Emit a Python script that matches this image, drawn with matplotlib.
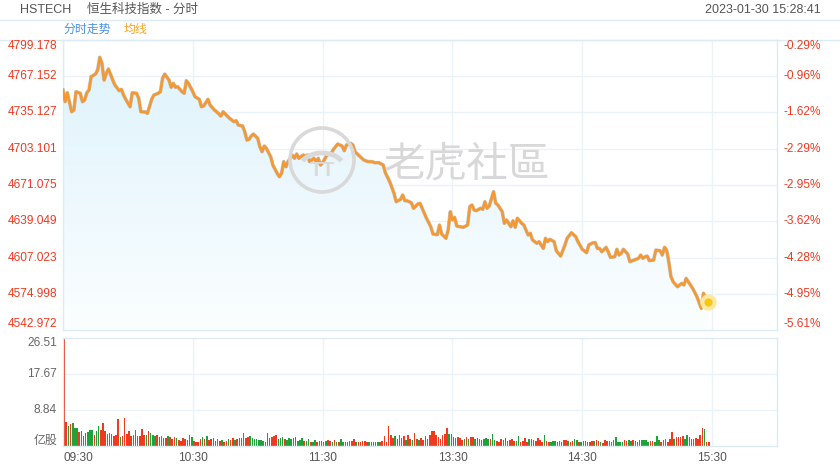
import numpy as np
import matplotlib.pyplot as plt
from matplotlib.colors import LinearSegmentedColormap
from matplotlib.patches import Polygon, Circle, Arc
from matplotlib.transforms import IdentityTransform

plt.rcParams['font.family'] = ['Liberation Sans', 'Noto Sans CJK SC', 'DejaVu Sans']

W, H = 840, 470

# ---- data ----
prev_close = 4813.2
price_ticks = [4542.972, 4574.998, 4607.023, 4639.049, 4671.075,
               4703.101, 4735.127, 4767.152, 4799.178]
vol_ticks = [8.84, 17.67, 26.51]
hour_labels = ['09:30', '10:30', '11:30', '13:30', '14:30', '15:30']

times = ['09:30', '09:31', '09:32', '09:34', '09:35', '09:36', '09:38', '09:39', '09:40', '09:41',
         '09:42', '09:43', '09:45', '09:46', '09:47', '09:48', '09:49', '09:50', '09:51', '09:53',
         '09:54', '09:56', '09:57', '09:58', '09:59', '10:01', '10:02', '10:04', '10:05', '10:06',
         '10:08', '10:09', '10:11', '10:12', '10:14', '10:15', '10:16', '10:17', '10:19', '10:20',
         '10:21', '10:22', '10:23', '10:25', '10:26', '10:27', '10:28', '10:30', '10:31', '10:33',
         '10:34', '10:35', '10:37', '10:38', '10:40', '10:41', '10:43', '10:44', '10:45', '10:47',
         '10:49', '10:50', '10:51', '10:53', '10:54', '10:55', '10:56', '10:57', '10:58', '11:00',
         '11:01', '11:02', '11:03', '11:04', '11:06', '11:07', '11:09', '11:10', '11:11', '11:12',
         '11:13', '11:14', '11:16', '11:17', '11:18', '11:19', '11:21', '11:22', '11:23', '11:24',
         '11:26', '11:27', '11:28', '11:29', '11:30', '11:32', '11:34', '11:35', '11:37', '11:39',
         '11:40', '11:41', '11:43', '11:44', '11:45', '11:46', '11:47', '11:49', '11:51', '11:53',
         '11:54', '11:56', '11:58', '11:59', '13:01', '13:03', '13:04', '13:06', '13:07', '13:08',
         '13:09', '13:11', '13:12', '13:14', '13:15', '13:16', '13:18', '13:20', '13:21', '13:23',
         '13:24', '13:25', '13:27', '13:28', '13:29', '13:30', '13:31', '13:32', '13:35', '13:37',
         '13:38', '13:39', '13:40', '13:41', '13:43', '13:44', '13:45', '13:46', '13:47', '13:49',
         '13:50', '13:51', '13:53', '13:54', '13:55', '13:57', '13:58', '13:59', '14:00', '14:02',
         '14:03', '14:05', '14:06', '14:07', '14:09', '14:10', '14:12', '14:13', '14:14', '14:15',
         '14:17', '14:18', '14:20', '14:22', '14:23', '14:25', '14:27', '14:28', '14:30', '14:32',
         '14:33', '14:35', '14:36', '14:37', '14:38', '14:39', '14:41', '14:42', '14:43', '14:45',
         '14:46', '14:47', '14:48', '14:49', '14:51', '14:52', '14:54', '14:56', '14:57', '14:58',
         '14:59', '15:00', '15:01', '15:03', '15:04', '15:06', '15:07', '15:08', '15:09', '15:10',
         '15:11', '15:12', '15:14', '15:16', '15:17', '15:18', '15:20', '15:21', '15:23', '15:25',
         '15:26', '15:28']
prices = [4755.0, 4744.7, 4752.6, 4735.8, 4737.3, 4753.5, 4752.1, 4744.7, 4746.2, 4752.6,
          4755.0, 4766.8, 4769.1, 4772.7, 4783.9, 4778.6, 4763.8, 4769.8, 4773.6, 4763.8,
          4759.4, 4754.4, 4755.6, 4750.6, 4746.8, 4740.2, 4752.6, 4752.1, 4747.7, 4735.8,
          4735.6, 4734.4, 4746.8, 4750.6, 4752.1, 4753.5, 4765.3, 4769.1, 4763.8, 4757.4,
          4760.9, 4757.4, 4757.9, 4753.5, 4752.1, 4763.2, 4760.9, 4753.5, 4749.1, 4746.8,
          4740.2, 4740.9, 4746.8, 4741.7, 4737.3, 4735.8, 4732.0, 4735.8, 4733.8, 4730.0,
          4727.0, 4727.9, 4724.1, 4723.2, 4718.2, 4710.8, 4711.4, 4714.4, 4716.1, 4712.3,
          4704.9, 4700.5, 4705.5, 4703.5, 4696.1, 4688.7, 4681.4, 4678.4, 4681.4, 4691.7,
          4687.2, 4691.7, 4697.6, 4694.7, 4698.5, 4694.7, 4697.6, 4696.7, 4697.6, 4691.7,
          4694.7, 4691.7, 4694.7, 4688.7, 4690.8, 4697.6, 4699.1, 4702.6, 4707.3, 4705.5,
          4701.4, 4706.4, 4707.9, 4706.4, 4700.5, 4698.5, 4696.7, 4693.2, 4691.7, 4691.7,
          4690.8, 4690.8, 4688.7, 4681.9, 4674.0, 4663.7, 4656.3, 4658.4, 4662.2, 4657.2,
          4657.2, 4655.4, 4650.5, 4654.3, 4654.9, 4650.5, 4641.7, 4634.2, 4627.8, 4627.2,
          4635.7, 4627.8, 4624.0, 4631.3, 4647.5, 4640.2, 4642.5, 4634.8, 4633.7, 4635.7,
          4651.9, 4653.4, 4649.0, 4648.4, 4650.5, 4649.6, 4656.3, 4650.5, 4652.5, 4665.2,
          4654.9, 4653.4, 4647.5, 4637.2, 4640.2, 4634.2, 4639.5, 4633.7, 4641.7, 4637.2,
          4635.7, 4626.9, 4628.4, 4622.5, 4619.6, 4621.0, 4615.1, 4624.0, 4621.0, 4623.1,
          4621.0, 4613.0, 4608.3, 4618.1, 4624.0, 4628.9, 4625.4, 4621.0, 4614.3, 4611.3,
          4618.1, 4620.1, 4620.1, 4615.1, 4615.1, 4612.1, 4616.0, 4612.1, 4607.2, 4607.7,
          4614.3, 4609.2, 4610.7, 4614.3, 4610.1, 4603.3, 4604.8, 4606.3, 4609.2, 4606.3,
          4607.7, 4608.3, 4604.2, 4604.8, 4613.6, 4613.0, 4609.2, 4616.0, 4613.6, 4603.0,
          4590.1, 4585.6, 4581.2, 4584.2, 4582.7, 4588.6, 4582.7, 4579.8, 4572.4, 4562.1,
          4575.4, 4568.0]

# volume per minute (亿股), one bar per trading minute from 09:30
volume = [26.51, 5.97, 4.9, 5.3, 5.6, 4.5, 4.5, 3.5, 3.7, 2.5,
          3.1, 3.4, 3.9, 3.9, 2.7, 3.7, 4.9, 3.9, 5.6, 3.7,
          2.9, 3.1, 2.9, 2.5, 2.7, 6.6, 2.3, 2.5, 6.8, 2.9,
          3.7, 2.5, 2.7, 3.9, 2.5, 2.5, 4.2, 2.7, 2.7, 3.8,
          3.1, 2.6, 2.4, 2.8, 2.2, 2.5, 2.0, 1.9, 2.4, 2.1,
          1.6, 2.3, 1.9, 1.5, 1.3, 2.0, 1.8, 1.4, 2.6, 2.3,
          1.2, 1.1, 0.9, 1.6, 2.2, 1.8, 2.4, 1.5, 1.8, 1.9,
          1.3, 1.7, 1.3, 1.5, 1.0, 1.2, 1.7, 1.5, 1.9, 1.4,
          1.8, 2.0, 1.9, 3.1, 2.0, 2.1, 2.4, 1.9, 1.8, 1.6,
          1.5, 1.5, 1.2, 1.0, 3.3, 2.0, 2.1, 2.5, 2.7, 1.8,
          2.0, 2.3, 1.7, 1.4, 1.9, 1.7, 2.0, 2.1, 1.3, 1.4,
          1.9, 1.3, 1.2, 1.7, 1.0, 1.1, 1.4, 0.9, 1.2, 1.3,
          1.0, 1.2, 1.4, 1.3, 0.9, 1.5, 1.1, 1.0, 1.7, 1.0,
          0.9, 1.0, 1.2, 1.3, 1.7, 1.1, 1.0, 1.0, 1.3, 1.2,
          1.1, 1.0, 0.9, 1.0, 0.9, 1.0, 1.0, 1.2, 2.5, 0.9,
          4.9, 2.6, 1.9, 2.4, 1.8, 2.8, 2.0, 2.4, 1.5, 2.7,
          1.6, 1.5, 3.1, 1.7, 1.5, 1.9, 1.4, 2.5, 1.8, 2.6,
          3.7, 3.6, 2.7, 2.1, 1.7, 2.6, 2.9, 4.4, 3.0, 3.0,
          2.2, 2.0, 2.1, 1.9, 1.5, 1.7, 2.1, 1.8, 2.3, 2.3,
          1.8, 2.0, 1.6, 1.4, 1.8, 1.9, 1.7, 1.6, 2.9, 1.5,
          1.2, 1.0, 1.7, 1.4, 1.9, 1.2, 1.5, 1.8, 1.3, 1.3,
          2.5, 1.1, 1.3, 1.9, 1.1, 1.6, 1.8, 1.4, 1.2, 1.9,
          1.5, 1.1, 2.7, 1.2, 1.0, 1.1, 1.3, 1.3, 1.1, 1.2,
          1.1, 1.4, 1.5, 1.3, 1.0, 1.3, 1.6, 1.5, 1.0, 0.9,
          1.2, 1.3, 0.9, 1.0, 1.3, 1.2, 1.4, 1.3, 0.9, 0.8,
          1.4, 1.2, 1.3, 1.0, 1.5, 2.3, 1.1, 1.0, 1.1, 1.4,
          1.3, 1.5, 1.3, 1.4, 1.2, 1.0, 1.4, 1.4, 1.5, 1.5,
          1.1, 1.3, 1.2, 0.9, 2.5, 1.4, 1.0, 1.4, 1.7, 1.0,
          1.6, 3.5, 1.8, 2.1, 2.2, 2.2, 2.4, 1.7, 2.7, 2.1,
          1.6, 1.7, 2.0, 1.8, 2.7, 4.5, 4.2, 1.1, 1.0]
# u = up minute (red), d = down minute (green), ten minutes per string
direction = ''.join([
    'uududddudd', 'ddddudduuu', 'ddduuuduuu', 'uuduuuuudu', 'dddudduudu',
    'uuduuuuddd', 'uuuududuuu', 'ududuuduud', 'uuuuuudddd', 'ddduuuuuud',
    'dduddduudd', 'dudduddudu', 'uduudududd', 'uuuuuduuuu', 'uduuuduuuu',
    'uuudduuudu', 'uduuduuuuu', 'uuuuuuuudd', 'uduuududuu', 'dddudddudd',
    'uuududuuud', 'duuuuduuuu', 'uuduudddud', 'duuduuddud', 'duduuduudu',
    'uududddddu', 'uddudddddd', 'duuddduddu', 'uuduuuuddd', 'uuuuuuduu'])

header_left = 'HSTECH'
header_name = '恒生科技指数 - 分时'
header_time = '2023-01-30 15:28:41'


def to_minute(t):
    h, m = map(int, t.split(':'))
    mins = h * 60 + m
    if mins <= 12 * 60:
        return mins - (9 * 60 + 30)
    return 150 + mins - 13 * 60


xm = np.array([to_minute(t) for t in times])
py = np.array(prices)
hour_pos = [to_minute(t) for t in hour_labels]

red = '#ee3a1f'
green = '#1ea33a'
grid_c = '#e9f3f9'
frame_c = '#dcebf4'

fig = plt.figure(figsize=(W / 100, H / 100), dpi=100)
fig.patch.set_facecolor('white')


def fx(px):
    return px / W


def fy(py_):
    return 1 - py_ / H


X0, X1 = 63, 777
ax = fig.add_axes([fx(X0), fy(330), fx(X1 - X0), fy(40) - fy(330)])
vax = fig.add_axes([fx(X0), fy(446), fx(X1 - X0), fy(338) - fy(446)])

ymin, ymax = price_ticks[0], price_ticks[-1]
for a in (ax, vax):
    a.set_xlim(0, 330)
    a.set_xticks([])
    a.set_yticks([])
    for s in a.spines.values():
        s.set_color(frame_c)
        s.set_linewidth(1)
    for hp in hour_pos:
        a.axvline(hp, color=grid_c, lw=1, zorder=0)
ax.set_ylim(ymin, ymax)
for t in price_ticks[1:-1]:
    ax.axhline(t, color=grid_c, lw=1, zorder=0)

# gradient area under the line
cmap = LinearSegmentedColormap.from_list('fill', ['#fbfeff', '#ddf2fc'])
grad = ax.imshow(np.linspace(0, 1, 256).reshape(-1, 1), cmap=cmap, origin='lower',
                 extent=[0, 330, ymin, ymax], aspect='auto', zorder=1)
verts = np.vstack([np.column_stack([xm, py]), [[xm[-1], ymin], [xm[0], ymin]]])
poly = Polygon(verts, closed=True, facecolor='none', edgecolor='none')
ax.add_patch(poly)
grad.set_clip_path(poly)

# watermark (logo ring + text), placed in pixels
ring = Circle((322, H - 160), 32, transform=IdentityTransform(), fill=False,
              ec='#d9d9d9', lw=2.6, zorder=2)
fig.add_artist(ring)
inner = Arc((322, H - 168), 44, 30, theta1=20, theta2=160, transform=IdentityTransform(),
            ec='#d9d9d9', lw=3.5, zorder=2)
fig.add_artist(inner)
fig.text(fx(322), fy(170), 'TT', ha='center', va='center', fontsize=15,
         color='#dadada', fontweight='bold', zorder=2)
fig.text(fx(467), fy(165), '老虎社區', ha='center', va='center', fontsize=30,
         color='#d8d8d8', family=['Noto Sans CJK TC', 'Noto Sans CJK SC'], zorder=2)

ax.plot(xm, py, color='#8a7a6a', lw=2.6, alpha=0.45, zorder=3, solid_joinstyle='round')
ax.plot(xm, py, color='#f7982f', lw=1.8, zorder=4, solid_joinstyle='round')
ax.scatter([xm[-1]], [py[-1]], s=140, color='#fde9a2', zorder=5, lw=0)
ax.scatter([xm[-1]], [py[-1]], s=35, color='#f9c80e', zorder=6, lw=0)

# volume bars
vx = np.arange(len(volume))
vcol = [red if d == 'u' else green for d in direction]
vax.set_ylim(0, vol_ticks[-1])
for t in vol_ticks[:-1]:
    vax.axhline(t, color=grid_c, lw=1, zorder=0)
vax.bar(vx + 0.5, volume, width=0.72, color=vcol, zorder=2)

# axis labels
for i, t in enumerate(price_ticks):
    y = 40 + (ymax - t) / (ymax - ymin) * 290
    va = 'top' if i == len(price_ticks) - 1 else ('bottom' if i == 0 else 'center')
    fig.text(fx(57), fy(y), f'{t:.3f}', ha='right', va=va, color=red, fontsize=8.6)
    pct = (t / prev_close - 1) * 100
    fig.text(fx(783), fy(y), f'{pct:.2f}%', ha='left', va=va, color=red, fontsize=8.6)

for t in vol_ticks:
    y = 446 - t / vol_ticks[-1] * 108
    va = 'top' if t == vol_ticks[-1] else 'center'
    fig.text(fx(57), fy(y + (-1 if va == 'top' else 0)), f'{t:.2f}', ha='right', va=va,
             color='#666666', fontsize=8.6)
fig.text(fx(57), fy(447), '亿股', ha='right', va='bottom', color='#666666', fontsize=8.6)

for lab, hp in zip(hour_labels, hour_pos):
    px = X0 + hp / 330 * (X1 - X0)
    fig.text(fx(px), fy(458), lab, ha='left' if hp == 0 else 'center', va='center',
             color='#555555', fontsize=8.6)

# header
fig.text(fx(20), fy(10), header_left, ha='left', va='center', color='#555555', fontsize=9)
fig.text(fx(87), fy(10), header_name, ha='left', va='center', color='#555555', fontsize=9)
fig.text(fx(821), fy(10), header_time, ha='right', va='center', color='#555555', fontsize=9)
fig.add_artist(plt.Line2D([0, 1], [fy(20), fy(20)], color=frame_c, lw=1))
fig.add_artist(plt.Line2D([0, 1], [fy(40), fy(40)], color=frame_c, lw=1))
fig.text(fx(64), fy(30), '分时走势', ha='left', va='center', color='#4a90e2', fontsize=8.6)
fig.text(fx(124), fy(30), '均线', ha='left', va='center', color='#f5a623', fontsize=8.6)

fig.savefig('out.png', dpi=100)
